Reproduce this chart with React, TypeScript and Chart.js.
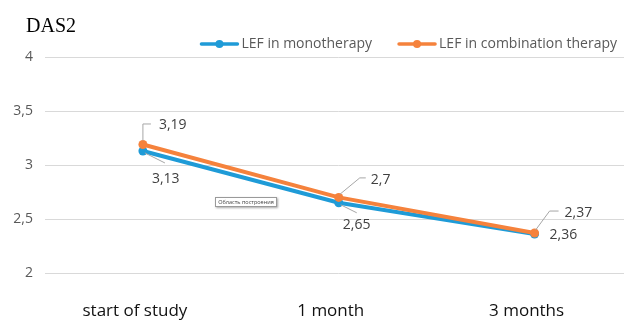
import React, { useEffect, useRef } from 'react';
import { Chart, registerables } from 'chart.js';

Chart.register(...registerables);

// ---- data ----
const categories = ['start of study', '1 month', '3 months'];
const seriesNames = ['LEF in monotherapy', 'LEF in combination therapy'];
const monoValues = [3.13, 2.65, 2.36];
const comboValues = [3.19, 2.7, 2.37];
const yMin = 2;
const yMax = 4;
const yStep = 0.5;
const chartTitle = 'DAS2';
const plotAreaHint = 'Область построения';

// ---- styles ----
const BLUE = '#1f9bd7';
const ORANGE = '#f5823c';
const FONT = '"Open Sans", "Noto Sans", sans-serif';

const fmt = (v: number) => String(v).replace('.', ',');

type LabelStyle = { tx: number; ty: number; leader: number[][] | null };
// label placement relative to each point, per dataset (mono, combo)
const LABEL_LAYOUT: LabelStyle[][] = [
  [
    { tx: 9, ty: 28, leader: [[2, 2], [22, 12]] },
    { tx: 4, ty: 22, leader: [[2, 2], [18, 10]] },
    { tx: 15, ty: 1, leader: null },
  ],
  [
    { tx: 16, ty: -19.5, leader: [[0, -4], [0, -20.5], [8, -20.5]] },
    { tx: 32, ty: -17.5, leader: [[1, -3], [21, -19.5], [27, -19.5]] },
    { tx: 30, ty: -20, leader: [[1, -3], [15, -22], [24, -22]] },
  ],
];

const overlayPlugin = {
  id: 'overlay',
  afterDatasetsDraw(chart: any) {
    const ctx = chart.ctx;
    ctx.save();
    chart.data.datasets.forEach((ds: any, di: number) => {
      const meta = chart.getDatasetMeta(di);
      meta.data.forEach((pt: any, i: number) => {
        const L = LABEL_LAYOUT[di][i];
        const x = pt.x;
        const y = pt.y;
        if (L.leader) {
          ctx.beginPath();
          L.leader.forEach(([dx, dy], k) => {
            if (k === 0) ctx.moveTo(x + dx, y + dy);
            else ctx.lineTo(x + dx, y + dy);
          });
          ctx.strokeStyle = '#a6a6a6';
          ctx.lineWidth = 1;
          ctx.stroke();
        }
        ctx.fillStyle = '#404040';
        ctx.font = `14px ${FONT}`;
        ctx.textAlign = 'left';
        ctx.textBaseline = 'middle';
        ctx.fillText(fmt(ds.data[i]), x + L.tx, y + L.ty);
      });
    });
    ctx.restore();
  },
  afterDraw(chart: any) {
    const ctx = chart.ctx;
    ctx.save();
    // title
    ctx.fillStyle = '#000';
    ctx.font = '20px "Liberation Serif", "Times New Roman", serif';
    ctx.textAlign = 'left';
    ctx.textBaseline = 'alphabetic';
    ctx.fillText(chartTitle, 26, 32);

    // legend (right aligned)
    ctx.font = `14px ${FONT}`;
    ctx.textBaseline = 'middle';
    const cy = 44;
    const markerW = 36;
    const gapMT = 4;
    const itemGap = 27;
    let right = 617;
    const items = chart.data.datasets.map((d: any) => ({ text: d.label, color: d.borderColor }));
    for (let i = items.length - 1; i >= 0; i--) {
      const it = items[i];
      const w = ctx.measureText(it.text).width;
      const tx = right - w;
      const mx1 = tx - gapMT;
      const mx0 = mx1 - markerW;
      ctx.strokeStyle = it.color;
      ctx.lineWidth = 3.5;
      ctx.lineCap = 'round';
      ctx.beginPath();
      ctx.moveTo(mx0, cy);
      ctx.lineTo(mx1, cy);
      ctx.stroke();
      ctx.fillStyle = it.color;
      ctx.beginPath();
      ctx.arc((mx0 + mx1) / 2, cy, 4, 0, Math.PI * 2);
      ctx.fill();
      ctx.fillStyle = '#595959';
      ctx.fillText(it.text, tx, cy);
      right = mx0 - itemGap;
    }

    // plot-area hint box
    const bx = 215, by = 197, bw = 62, bh = 10;
    ctx.shadowColor = 'rgba(0,0,0,0.35)';
    ctx.shadowOffsetX = 1;
    ctx.shadowOffsetY = 1;
    ctx.shadowBlur = 2;
    ctx.fillStyle = '#ffffff';
    ctx.fillRect(bx, by, bw, bh);
    ctx.shadowColor = 'transparent';
    ctx.strokeStyle = '#9a9a9a';
    ctx.lineWidth = 1;
    ctx.strokeRect(bx + 0.5, by + 0.5, bw - 1, bh - 1);
    ctx.fillStyle = '#404040';
    ctx.font = `5.5px ${FONT}`;
    ctx.textAlign = 'center';
    ctx.fillText(plotAreaHint, bx + bw / 2, by + bh / 2 + 0.5);
    ctx.restore();
  },
};

export default function App() {
  const ref = useRef<HTMLCanvasElement | null>(null);
  useEffect(() => {
    if (!ref.current) return;
    const chart = new Chart(ref.current, {
      type: 'line',
      data: {
        labels: categories,
        datasets: [
          {
            label: seriesNames[0],
            data: monoValues,
            borderColor: BLUE,
            backgroundColor: BLUE,
            pointBackgroundColor: BLUE,
            pointBorderWidth: 0,
            pointRadius: 4.5,
            borderWidth: 4,
            tension: 0,
            order: 2,
          },
          {
            label: seriesNames[1],
            data: comboValues,
            borderColor: ORANGE,
            backgroundColor: ORANGE,
            pointBackgroundColor: ORANGE,
            pointBorderWidth: 0,
            pointRadius: 4.5,
            borderWidth: 4,
            tension: 0,
            order: 1,
          },
        ],
      },
      options: {
        responsive: false,
        animation: false,
        layout: { padding: { top: 57, left: 13, right: 0, bottom: 0 } },
        plugins: {
          legend: { display: false },
          tooltip: { enabled: false },
          title: { display: false },
        },
        scales: {
          x: {
            type: 'category',
            offset: true,
            grid: { display: false, drawTicks: false },
            border: { display: false },
            ticks: {
              color: '#111111',
              font: { family: FONT, size: 17, lineHeight: 1 },
              padding: 30,
              labelOffset: -8,
              maxRotation: 0,
              autoSkip: false,
            },
            afterFit: (s: any) => {
              s.height = 47;
            },
          },
          y: {
            min: yMin,
            max: yMax,
            grid: { color: '#d9d9d9', drawTicks: false, lineWidth: 1 },
            border: { display: false },
            ticks: {
              stepSize: yStep,
              color: '#595959',
              font: { family: FONT, size: 14 },
              padding: 12,
              callback: (v: any) => fmt(Number(v)),
            },
            afterFit: (s: any) => {
              s.width = 32;
            },
          },
        },
      },
      plugins: [overlayPlugin],
    } as any);
    return () => chart.destroy();
  }, []);

  return (
    <div
      style={{
        position: 'absolute',
        left: 0,
        top: 0,
        width: 624,
        height: 320,
        overflow: 'hidden',
        background: '#fff',
      }}
    >
      <canvas ref={ref} width={637} height={320} style={{ display: 'block' }} />
    </div>
  );
}
